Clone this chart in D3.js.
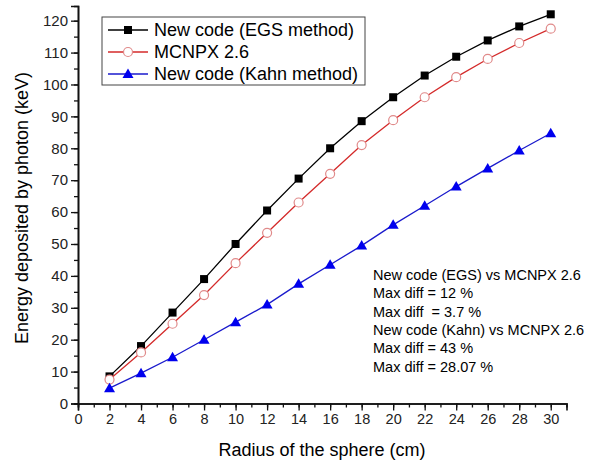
<!DOCTYPE html>
<html>
<head>
<meta charset="utf-8">
<script src="https://cdn.jsdelivr.net/npm/d3@7"></script>
<style>
  body { margin: 0; background: #fff; }
  svg { font-family: Arial, "Liberation Sans", sans-serif; }
</style>
</head>
<body>
<svg width="590" height="464"></svg>
<script>
const radius = [2, 4, 6, 8, 10, 12, 14, 16, 18, 20, 22, 24, 26, 28, 30]
const egs = [8.5, 18, 28.5, 39, 50, 60.5, 70.5, 80, 88.5, 96, 102.8, 108.7, 113.8, 118.2, 122]
const mcnpx = [7.5, 16, 25, 34, 44, 53.5, 63, 72, 81, 88.8, 96, 102.3, 108, 113, 117.5]
const kahn = [4.8, 9.5, 14.5, 20, 25.5, 31, 37.5, 43.5, 49.5, 56, 62, 68, 73.7, 79.3, 84.7]
const xTicks = d3.range(0, 31, 2)
const yTicks = d3.range(0, 121, 10)
const legendLabels = ["New code (EGS method)", "MCNPX 2.6", "New code (Kahn method)"]
const notes = ["New code (EGS) vs MCNPX 2.6", "Max diff = 12 %", "Max diff  = 3.7 %",
               "New code (Kahn) vs MCNPX 2.6", "Max diff = 43 %", "Max diff = 28.07 %"]

const series = [
  { name: legendLabels[0], values: egs, color: "#000", marker: "square" },
  { name: legendLabels[1], values: mcnpx, color: "#d42a2a", marker: "circle" },
  { name: legendLabels[2], values: kahn, color: "#1a1acc", marker: "triangle" }
]

const svg = d3.select("svg")
const x = d3.scaleLinear().domain([0, 31]).range([78, 566.5])
const y = d3.scaleLinear().domain([0, 124.6]).range([403.5, 6])

// axes with minor ticks
svg.append("g")
  .attr("transform", "translate(0,403.5)")
  .call(d3.axisBottom(x).tickValues(d3.range(0, 31, 1)).tickSize(4).tickFormat(""))
svg.append("g")
  .attr("transform", "translate(0,403.5)")
  .call(d3.axisBottom(x).tickValues(xTicks).tickSize(7).tickPadding(3))
  .call(g => g.selectAll("text").attr("font-size", 14.5).attr("fill", "#222"))
svg.append("g")
  .attr("transform", "translate(78,0)")
  .call(d3.axisLeft(y).tickValues(d3.range(0, 121, 5)).tickSize(4).tickFormat(""))
svg.append("g")
  .attr("transform", "translate(78,0)")
  .call(d3.axisLeft(y).tickValues(yTicks).tickSize(7).tickPadding(3))
  .call(g => g.selectAll("text").attr("font-size", 15).attr("fill", "#222"))

svg.selectAll(".domain").attr("stroke-width", 1.6).attr("stroke", "#111")
svg.selectAll(".tick line").attr("stroke-width", 1.3).attr("stroke", "#111")

svg.append("text")
  .attr("transform", "translate(28,208) rotate(-90)")
  .attr("text-anchor", "middle")
  .attr("font-size", 18)
  .text("Energy deposited by photon (keV)")
svg.append("text")
  .attr("x", 322).attr("y", 456)
  .attr("text-anchor", "middle")
  .attr("font-size", 18)
  .text("Radius of the sphere (cm)")

function drawMarker(g, type, color, px, py) {
  if (type === "square") {
    g.append("rect").attr("x", px - 4).attr("y", py - 4).attr("width", 8).attr("height", 8)
      .attr("fill", color)
  } else if (type === "circle") {
    g.append("circle").attr("cx", px).attr("cy", py).attr("r", 4.5)
      .attr("fill", "#fff").attr("stroke", "#e08a8a").attr("stroke-width", 1.2)
  } else {
    g.append("path").attr("d", `M${px},${py - 5.5}L${px + 5.5},${py + 4}L${px - 5.5},${py + 4}Z`)
      .attr("fill", "#0000ee")
  }
}

const line = d3.line().x((d, i) => x(radius[i])).y(d => y(d))
series.forEach(s => {
  const g = svg.append("g")
  g.append("path").datum(s.values).attr("d", line)
    .attr("fill", "none").attr("stroke", s.color).attr("stroke-width", 1.3)
  s.values.forEach((v, i) => drawMarker(g, s.marker, s.color, x(radius[i]), y(v)))
})

// legend
const lg = svg.append("g")
lg.append("rect").attr("x", 102).attr("y", 17).attr("width", 263).attr("height", 68)
  .attr("fill", "#fff").attr("stroke", "#444").attr("stroke-width", 1)
series.forEach((s, i) => {
  const ly = 30 + i * 22
  lg.append("line").attr("x1", 108).attr("x2", 148).attr("y1", ly).attr("y2", ly)
    .attr("stroke", s.color).attr("stroke-width", 1.3)
  drawMarker(lg, s.marker, s.color, 128, ly)
  lg.append("text").attr("x", 154).attr("y", ly + 6).attr("font-size", 18).text(s.name)
})

// annotation
svg.append("g").selectAll("text").data(notes).enter().append("text")
  .attr("x", 373).attr("y", (d, i) => 280 + i * 18.3)
  .attr("font-size", 14.5)
  .attr("xml:space", "preserve")
  .style("white-space", "pre")
  .text(d => d)
</script>
</body>
</html>
